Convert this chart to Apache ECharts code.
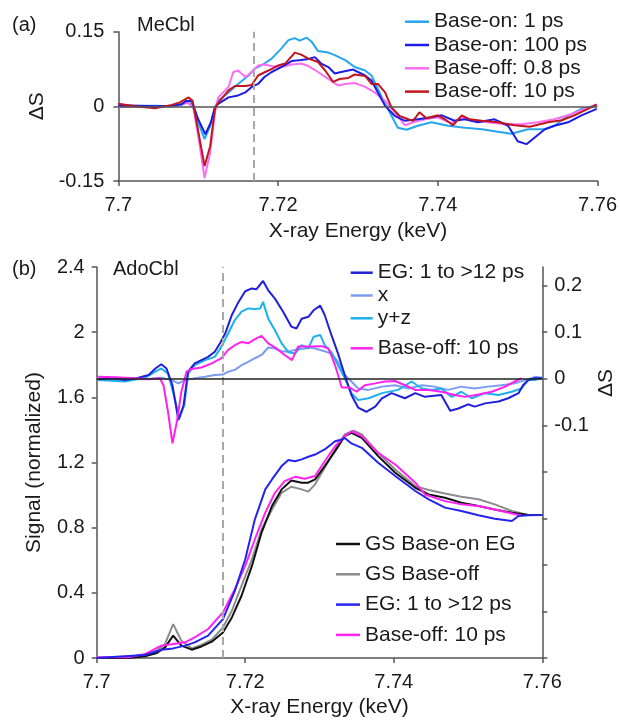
<!DOCTYPE html>
<html><head><meta charset="utf-8">
<script src="https://cdn.jsdelivr.net/npm/echarts@6/dist/echarts.min.js"></script>
<style>html,body{margin:0;padding:0;background:#fff}#c{width:620px;height:723px}</style>
</head><body><div id="c"></div>
<script>
// ---------- data: [energy (keV), value] ----------
// Panel (a) MeCbl, ΔS
const baseOn1ps = [[7.7000,0.003],[7.7021,0.001],[7.7046,0.001],[7.7067,0.000],[7.7079,0.003],[7.7085,0.008],[7.7092,0.005],[7.7100,-0.032],[7.7108,-0.066],[7.7115,-0.039],[7.7121,-0.002],[7.7125,0.011],[7.7138,0.028],[7.7150,0.045],[7.7163,0.062],[7.7171,0.076],[7.7183,0.086],[7.7192,0.096],[7.7204,0.116],[7.7213,0.133],[7.7221,0.137],[7.7227,0.132],[7.7236,0.138],[7.7242,0.130],[7.7250,0.111],[7.7263,0.108],[7.7271,0.103],[7.7284,0.093],[7.7296,0.079],[7.7309,0.072],[7.7317,0.062],[7.7325,0.035],[7.7334,0.005],[7.7342,-0.019],[7.7350,-0.043],[7.7361,-0.047],[7.7375,-0.039],[7.7392,-0.032],[7.7413,-0.039],[7.7434,-0.043],[7.7455,-0.046],[7.7475,-0.051],[7.7492,-0.055],[7.7513,-0.046],[7.7534,-0.046],[7.7546,-0.039],[7.7563,-0.019],[7.7580,-0.005],[7.7599,0.001]];
const baseOn100ps = [[7.7000,0.001],[7.7021,0.001],[7.7046,0.000],[7.7067,0.001],[7.7079,0.004],[7.7085,0.011],[7.7092,0.011],[7.7100,-0.026],[7.7109,-0.056],[7.7116,-0.032],[7.7121,-0.002],[7.7125,0.005],[7.7138,0.018],[7.7150,0.022],[7.7159,0.028],[7.7167,0.039],[7.7175,0.045],[7.7183,0.059],[7.7192,0.069],[7.7204,0.079],[7.7217,0.091],[7.7229,0.093],[7.7238,0.095],[7.7246,0.099],[7.7254,0.086],[7.7263,0.079],[7.7271,0.066],[7.7279,0.069],[7.7288,0.072],[7.7294,0.074],[7.7309,0.062],[7.7317,0.052],[7.7325,0.028],[7.7334,0.001],[7.7346,-0.019],[7.7359,-0.029],[7.7375,-0.026],[7.7392,-0.022],[7.7405,-0.018],[7.7421,-0.029],[7.7434,-0.026],[7.7450,-0.032],[7.7471,-0.026],[7.7488,-0.039],[7.7500,-0.070],[7.7511,-0.076],[7.7521,-0.063],[7.7534,-0.046],[7.7546,-0.039],[7.7563,-0.032],[7.7580,-0.018],[7.7599,-0.005]];
const baseOff08ps = [[7.7000,-0.002],[7.7021,-0.001],[7.7046,-0.001],[7.7067,0.001],[7.7079,0.004],[7.7087,0.007],[7.7094,-0.002],[7.7100,-0.059],[7.7108,-0.144],[7.7115,-0.093],[7.7121,-0.012],[7.7125,0.018],[7.7138,0.039],[7.7144,0.069],[7.7150,0.072],[7.7159,0.059],[7.7167,0.069],[7.7175,0.082],[7.7183,0.084],[7.7192,0.081],[7.7204,0.079],[7.7217,0.084],[7.7229,0.086],[7.7238,0.081],[7.7250,0.069],[7.7263,0.055],[7.7275,0.042],[7.7284,0.045],[7.7296,0.047],[7.7309,0.039],[7.7321,0.028],[7.7334,0.011],[7.7346,-0.012],[7.7359,-0.038],[7.7369,-0.032],[7.7384,-0.026],[7.7400,-0.022],[7.7417,-0.034],[7.7430,-0.022],[7.7442,-0.029],[7.7463,-0.032],[7.7484,-0.036],[7.7505,-0.036],[7.7525,-0.032],[7.7546,-0.026],[7.7567,-0.016],[7.7588,-0.002],[7.7599,0.003]];
const baseOff10psA = [[7.7000,0.005],[7.7021,0.000],[7.7046,-0.004],[7.7067,0.003],[7.7077,0.008],[7.7088,0.018],[7.7093,0.011],[7.7098,-0.032],[7.7108,-0.120],[7.7115,-0.080],[7.7121,-0.005],[7.7125,0.007],[7.7138,0.032],[7.7146,0.041],[7.7159,0.041],[7.7167,0.043],[7.7175,0.062],[7.7188,0.072],[7.7200,0.082],[7.7209,0.086],[7.7221,0.108],[7.7229,0.104],[7.7238,0.096],[7.7250,0.089],[7.7259,0.072],[7.7269,0.049],[7.7277,0.055],[7.7288,0.057],[7.7296,0.064],[7.7309,0.061],[7.7317,0.045],[7.7325,0.045],[7.7334,0.028],[7.7342,-0.002],[7.7352,-0.019],[7.7363,-0.026],[7.7369,-0.029],[7.7377,-0.012],[7.7386,-0.024],[7.7400,-0.018],[7.7409,-0.026],[7.7419,-0.038],[7.7430,-0.018],[7.7440,-0.026],[7.7455,-0.029],[7.7475,-0.032],[7.7496,-0.038],[7.7515,-0.041],[7.7538,-0.032],[7.7555,-0.028],[7.7571,-0.018],[7.7588,-0.005],[7.7599,0.004]];

// Panel (b) AdoCbl, ΔS (right axis)
const egDS = [[7.7002,-0.001],[7.7020,0.001],[7.7038,-0.003],[7.7056,0.002],[7.7070,0.008],[7.7079,0.022],[7.7087,0.031],[7.7094,0.022],[7.7102,-0.014],[7.7110,-0.089],[7.7117,-0.057],[7.7123,0.015],[7.7132,0.033],[7.7141,0.040],[7.7150,0.047],[7.7159,0.058],[7.7166,0.076],[7.7173,0.097],[7.7182,0.137],[7.7191,0.165],[7.7200,0.188],[7.7209,0.194],[7.7215,0.192],[7.7224,0.210],[7.7231,0.190],[7.7240,0.172],[7.7251,0.144],[7.7262,0.112],[7.7269,0.108],[7.7276,0.129],[7.7285,0.133],[7.7292,0.147],[7.7301,0.157],[7.7307,0.137],[7.7316,0.094],[7.7325,0.054],[7.7334,0.008],[7.7343,-0.035],[7.7352,-0.062],[7.7363,-0.071],[7.7375,-0.060],[7.7384,-0.042],[7.7397,-0.031],[7.7415,-0.042],[7.7429,-0.031],[7.7442,-0.039],[7.7464,-0.035],[7.7476,-0.069],[7.7487,-0.064],[7.7500,-0.055],[7.7509,-0.060],[7.7523,-0.053],[7.7541,-0.049],[7.7554,-0.042],[7.7568,-0.031],[7.7574,-0.014],[7.7581,-0.003],[7.7590,0.001],[7.7600,0.001]];
const xDS = [[7.7002,0.001],[7.7065,-0.001],[7.7087,0.002],[7.7101,-0.003],[7.7110,-0.010],[7.7119,-0.003],[7.7132,0.001],[7.7146,0.004],[7.7159,0.008],[7.7170,0.009],[7.7177,0.015],[7.7186,0.019],[7.7195,0.029],[7.7204,0.036],[7.7213,0.044],[7.7222,0.051],[7.7231,0.067],[7.7240,0.065],[7.7249,0.059],[7.7258,0.058],[7.7267,0.062],[7.7276,0.064],[7.7289,0.067],[7.7294,0.065],[7.7307,0.059],[7.7316,0.054],[7.7325,0.036],[7.7334,0.008],[7.7343,-0.006],[7.7352,-0.021],[7.7366,-0.024],[7.7384,-0.017],[7.7402,-0.014],[7.7420,-0.021],[7.7438,-0.014],[7.7455,-0.017],[7.7473,-0.024],[7.7491,-0.017],[7.7509,-0.021],[7.7527,-0.017],[7.7545,-0.014],[7.7563,-0.010],[7.7577,-0.003],[7.7590,0.004],[7.7600,0.002]];
const yzDS = [[7.7002,-0.003],[7.7038,-0.006],[7.7065,0.002],[7.7079,0.015],[7.7087,0.022],[7.7096,0.011],[7.7105,-0.042],[7.7111,-0.085],[7.7118,-0.057],[7.7123,0.011],[7.7132,0.029],[7.7146,0.040],[7.7159,0.047],[7.7168,0.069],[7.7177,0.097],[7.7186,0.126],[7.7195,0.144],[7.7204,0.151],[7.7213,0.150],[7.7220,0.151],[7.7224,0.165],[7.7231,0.129],[7.7240,0.104],[7.7249,0.076],[7.7258,0.057],[7.7267,0.054],[7.7276,0.072],[7.7285,0.065],[7.7292,0.090],[7.7301,0.094],[7.7307,0.072],[7.7316,0.057],[7.7325,0.029],[7.7334,0.001],[7.7343,-0.031],[7.7352,-0.046],[7.7366,-0.042],[7.7384,-0.031],[7.7406,-0.024],[7.7424,-0.006],[7.7438,-0.021],[7.7451,-0.024],[7.7464,-0.021],[7.7478,-0.039],[7.7491,-0.028],[7.7505,-0.042],[7.7523,-0.031],[7.7541,-0.035],[7.7559,-0.028],[7.7572,-0.021],[7.7581,-0.003],[7.7590,-0.003],[7.7600,0.002]];
const baseOff10psDS = [[7.7002,0.004],[7.7025,0.003],[7.7052,0.001],[7.7070,-0.001],[7.7085,0.001],[7.7090,-0.014],[7.7096,-0.071],[7.7102,-0.139],[7.7108,-0.092],[7.7114,-0.028],[7.7121,0.015],[7.7128,0.021],[7.7141,0.024],[7.7155,0.033],[7.7168,0.044],[7.7177,0.062],[7.7186,0.072],[7.7195,0.079],[7.7204,0.076],[7.7213,0.085],[7.7222,0.092],[7.7231,0.076],[7.7242,0.065],[7.7253,0.051],[7.7263,0.040],[7.7271,0.069],[7.7280,0.069],[7.7289,0.069],[7.7303,0.070],[7.7312,0.065],[7.7321,0.029],[7.7330,-0.019],[7.7341,-0.019],[7.7350,-0.028],[7.7361,-0.014],[7.7375,-0.010],[7.7388,-0.006],[7.7402,-0.005],[7.7415,-0.014],[7.7429,-0.024],[7.7447,-0.024],[7.7464,-0.028],[7.7482,-0.035],[7.7496,-0.039],[7.7514,-0.034],[7.7532,-0.028],[7.7550,-0.017],[7.7563,-0.006],[7.7572,0.001]];

// Panel (b) normalized signal (left axis)
const gsBaseOnEG = [[7.7000,0],[7.7043,0],[7.7065,0.010],[7.7081,0.031],[7.7092,0.065],[7.7103,0.137],[7.7114,0.076],[7.7128,0.051],[7.7141,0.071],[7.7155,0.100],[7.7170,0.157],[7.7182,0.249],[7.7195,0.382],[7.7209,0.565],[7.7222,0.770],[7.7236,0.933],[7.7249,1.035],[7.7262,1.090],[7.7276,1.076],[7.7285,1.076],[7.7294,1.096],[7.7307,1.178],[7.7321,1.270],[7.7334,1.362],[7.7343,1.382],[7.7357,1.351],[7.7379,1.239],[7.7402,1.137],[7.7429,1.045],[7.7447,1.004],[7.7469,0.984],[7.7491,0.953],[7.7514,0.933],[7.7536,0.912],[7.7559,0.892],[7.7581,0.878],[7.7600,0.878]];
const gsBaseOff = [[7.7000,0],[7.7065,0.014],[7.7081,0.045],[7.7092,0.086],[7.7103,0.208],[7.7114,0.106],[7.7128,0.059],[7.7141,0.080],[7.7155,0.112],[7.7170,0.188],[7.7182,0.290],[7.7195,0.443],[7.7209,0.606],[7.7222,0.790],[7.7236,0.912],[7.7249,1.014],[7.7262,1.051],[7.7276,1.035],[7.7285,1.021],[7.7294,1.066],[7.7307,1.168],[7.7321,1.280],[7.7334,1.372],[7.7346,1.396],[7.7357,1.372],[7.7379,1.259],[7.7402,1.157],[7.7429,1.055],[7.7447,1.031],[7.7469,1.010],[7.7491,0.990],[7.7514,0.974],[7.7536,0.943],[7.7559,0.902],[7.7581,0.878],[7.7600,0.878]];
const egSignal = [[7.7000,0],[7.7065,0.018],[7.7087,0.051],[7.7103,0.059],[7.7119,0.076],[7.7132,0.096],[7.7150,0.137],[7.7170,0.239],[7.7186,0.412],[7.7200,0.606],[7.7213,0.851],[7.7227,1.035],[7.7236,1.096],[7.7249,1.178],[7.7258,1.215],[7.7267,1.208],[7.7276,1.219],[7.7285,1.235],[7.7294,1.249],[7.7307,1.280],[7.7321,1.331],[7.7330,1.341],[7.7334,1.351],[7.7343,1.317],[7.7357,1.290],[7.7379,1.198],[7.7402,1.117],[7.7429,1.025],[7.7447,0.974],[7.7469,0.923],[7.7491,0.902],[7.7514,0.876],[7.7536,0.855],[7.7559,0.841],[7.7568,0.872],[7.7581,0.876],[7.7600,0.878]];
const baseOff10psSignal = [[7.7000,0.004],[7.7043,0.004],[7.7065,0.024],[7.7087,0.076],[7.7103,0.086],[7.7119,0.096],[7.7132,0.127],[7.7150,0.178],[7.7170,0.280],[7.7186,0.423],[7.7200,0.565],[7.7213,0.729],[7.7227,0.892],[7.7240,1.014],[7.7253,1.086],[7.7267,1.112],[7.7280,1.100],[7.7294,1.117],[7.7307,1.208],[7.7321,1.300],[7.7334,1.362],[7.7343,1.392],[7.7357,1.362],[7.7379,1.259],[7.7402,1.188],[7.7429,1.076],[7.7442,1.004],[7.7469,0.963],[7.7491,0.943],[7.7514,0.933],[7.7536,0.912],[7.7568,0.878],[7.7572,0.878]];

// axis settings
const xRange = [7.7, 7.76], xStep = 0.02;
const dsRangeA = [-0.15, 0.15], dsStepA = 0.15;
const sigRange = [0, 2.4], sigStep = 0.4;
const dsRangeB = [-0.6, 0.24], dsStepB = 0.1;
const dsTicksB = [-0.6, -0.5, -0.4, -0.3, -0.2, -0.1, 0, 0.1, 0.2];
const dsLabelsB = [-0.1, 0, 0.1, 0.2];
const edgeEnergy = 7.717;   // dashed marker

// ---------- chart ----------
const FONT = 'Liberation Sans, Arial, Helvetica, sans-serif';
const TXT = '#1a1a1a', AX = '#555';
const chart = echarts.init(document.getElementById('c'), null, {renderer: 'canvas'});

const r = (v, d) => String(Math.round(v * Math.pow(10, d)) / Math.pow(10, d));
function xAxisCfg(gi, gap) {
  return {
    gridIndex: gi, type: 'value', min: xRange[0], max: xRange[1], interval: xStep,
    axisLine: {onZero: false, lineStyle: {color: AX, width: 1.5}},
    axisTick: {show: true, length: 5, lineStyle: {color: AX, width: 1.5}},
    splitLine: {show: false},
    axisLabel: {margin: 14, fontSize: 20, fontFamily: FONT, color: TXT, formatter: v => r(v, 2)},
    name: 'X-ray Energy (keV)', nameLocation: 'middle', nameGap: gap,
    nameTextStyle: {fontSize: 21, fontFamily: FONT, color: TXT}
  };
}
function line(name, data, color, xi, yi, w, extra) {
  return Object.assign({
    name, type: 'line', data, xAxisIndex: xi, yAxisIndex: yi, color,
    symbol: 'none', showSymbol: false, animation: false, silent: true,
    lineStyle: {color, width: w}, itemStyle: {color}
  }, extra || {});
}
const dashLine = {xAxis: edgeEnergy, lineStyle: {type: [8, 5], color: '#a8a8a8', width: 2}};
const zeroLine = (c) => ({yAxis: 0, lineStyle: {type: 'solid', color: c, width: 1.5}});
const ml = (items) => ({markLine: {silent: true, precision: 5, symbol: ['none', 'none'], label: {show: false}, animation: false, data: items}});

const legendBase = {
  orient: 'vertical', icon: 'rect', itemHeight: 2.5, padding: 0, selectedMode: false,
  textStyle: {fontSize: 21, fontFamily: FONT, color: TXT},
  formatter: n => n.split('#')[0]
};

const option = {
  backgroundColor: '#fff',
  animation: false,
  grid: [
    {left: 118.3, top: 31.7, width: 479.7, height: 149.3},
    {left: 96.7, top: 267, width: 445.6, height: 392}
  ],
  xAxis: [xAxisCfg(0, 40), xAxisCfg(1, 39)],
  yAxis: [
    {gridIndex: 0, type: 'value', min: dsRangeA[0], max: dsRangeA[1], interval: dsStepA,
     axisLine: {show: true, lineStyle: {color: AX, width: 1.5}},
     axisTick: {show: true, length: 5, lineStyle: {color: AX, width: 1.5}},
     splitLine: {show: false},
     axisLabel: {margin: 14, fontSize: 20, fontFamily: FONT, color: TXT, formatter: v => Math.abs(v) < 1e-9 ? '0' : r(v, 2)},
     name: 'ΔS', nameLocation: 'middle', nameGap: 68, nameRotate: 90,
     nameTextStyle: {fontSize: 21, fontFamily: FONT, color: TXT}},
    {gridIndex: 1, type: 'value', min: sigRange[0], max: sigRange[1], interval: sigStep,
     axisLine: {show: true, lineStyle: {color: AX, width: 1.5}},
     axisTick: {show: true, length: 5, lineStyle: {color: AX, width: 1.5}},
     splitLine: {show: false},
     axisLabel: {margin: 12, fontSize: 20, fontFamily: FONT, color: TXT, formatter: v => r(v, 1)},
     name: 'Signal (normalized)', nameLocation: 'middle', nameGap: 52, nameRotate: 90,
     nameTextStyle: {fontSize: 21, fontFamily: FONT, color: TXT}},
    {gridIndex: 1, type: 'value', position: 'right', min: dsRangeB[0], max: dsRangeB[1], interval: dsStepB,
     axisLine: {show: true, onZero: false, lineStyle: {color: AX, width: 1.5}},
     axisTick: {show: true, length: 5, customValues: dsTicksB, lineStyle: {color: AX, width: 1.5}},
     splitLine: {show: false},
     axisLabel: {margin: 12, fontSize: 20, fontFamily: FONT, color: TXT, customValues: dsLabelsB,
       formatter: v => (v < -0.105 || v > 0.205) ? '' : (Math.abs(v) < 1e-9 ? '0' : r(v, 1))}}
  ],
  legend: [
    Object.assign({}, legendBase, {left: 405, top: 11.2, itemWidth: 24, itemGap: 2.3,
      data: ['Base-on: 1 ps#a', 'Base-on: 100 ps#a', 'Base-off: 0.8 ps#a', 'Base-off: 10 ps#a']}),
    Object.assign({}, legendBase, {left: 350.7, top: 262.2, itemWidth: 22, itemGap: 1.8,
      data: ['EG: 1 to >12 ps#ds', 'x#ds', 'y+z#ds']}),
    Object.assign({}, legendBase, {left: 350.7, top: 337.8, itemWidth: 22, itemGap: 1.8,
      data: ['Base-off: 10 ps#ds']}),
    Object.assign({}, legendBase, {left: 336, top: 533.5, itemWidth: 24, itemGap: 9.3,
      data: ['GS Base-on EG#s', 'GS Base-off#s', 'EG: 1 to >12 ps#s', 'Base-off: 10 ps#s']})
  ],
  series: [
    line('Base-on: 1 ps#a', baseOn1ps, '#27a6f0', 0, 0, 2, ml([dashLine, zeroLine('#555')])),
    line('Base-off: 0.8 ps#a', baseOff08ps, '#fb6ef2', 0, 0, 2),
    line('Base-on: 100 ps#a', baseOn100ps, '#1c1ce6', 0, 0, 2),
    line('Base-off: 10 ps#a', baseOff10psA, '#c3161c', 0, 0, 2),

    line('x#ds', xDS, '#7c9cf0', 1, 2, 2, ml([dashLine, zeroLine('#222')])),
    line('y+z#ds', yzDS, '#1cb0ec', 1, 2, 2),
    line('EG: 1 to >12 ps#ds', egDS, '#2020d8', 1, 2, 2),
    line('Base-off: 10 ps#ds', baseOff10psDS, '#ff22ee', 1, 2, 2),

    line('GS Base-off#s', gsBaseOff, '#8c8c8c', 1, 1, 2),
    line('GS Base-on EG#s', gsBaseOnEG, '#111111', 1, 1, 2),
    line('Base-off: 10 ps#s', baseOff10psSignal, '#ff22f0', 1, 1, 2),
    line('EG: 1 to >12 ps#s', egSignal, '#2424f0', 1, 1, 2)
  ],
  graphic: [
    {type: 'text', left: 12, top: 15, style: {text: '(a)', font: '20px ' + FONT, fill: TXT}},
    {type: 'text', left: 137, top: 15, style: {text: 'MeCbl', font: '20px ' + FONT, fill: TXT}},
    {type: 'text', left: 12, top: 259, style: {text: '(b)', font: '20px ' + FONT, fill: TXT}},
    {type: 'text', left: 113, top: 259, style: {text: 'AdoCbl', font: '20px ' + FONT, fill: TXT}},
    {type: 'text', x: 606, y: 383, rotation: Math.PI / 2,
     style: {text: 'ΔS', font: '21px ' + FONT, fill: TXT, align: 'center', verticalAlign: 'middle'}}
  ]
};
chart.setOption(option);
</script></body></html>
